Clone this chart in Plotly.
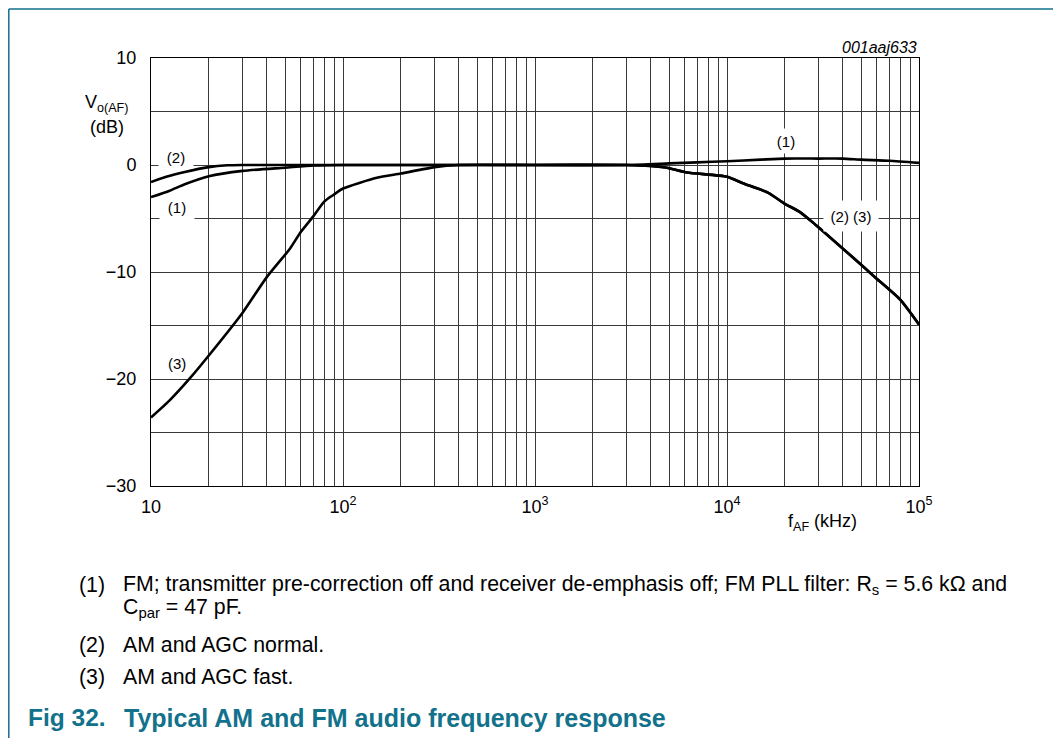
import plotly.graph_objects as go

# ---- data (frequency in kHz, response in dB) ----
f1 = [10, 12.5, 15, 20, 30, 50, 70, 100, 300, 1000, 3000, 5000, 7000, 10000, 15000, 20000, 30000, 40000, 50000, 70000, 100000]
db1 = [-3.0, -2.4, -1.8, -1.05, -0.55, -0.25, -0.05, 0, 0, 0, 0, 0.15, 0.25, 0.35, 0.5, 0.6, 0.6, 0.6, 0.5, 0.4, 0.2]

f2 = [10, 12, 15, 20, 25, 30, 100, 1000, 3000, 4000, 5000, 6200, 10000, 12100, 16400, 19900, 24000, 29000, 45000, 60000, 80000, 100000]
db2 = [-1.6, -1.1, -0.65, -0.2, -0.03, 0, 0, 0, 0, -0.1, -0.3, -0.7, -1.1, -1.7, -2.6, -3.6, -4.4, -5.6, -8.6, -10.6, -12.6, -14.9]

f3 = [10, 12.5, 16, 20, 30, 40, 53, 60, 70, 80, 89, 100, 150, 200, 300, 400, 1000, 3000, 4000, 5000, 6200, 10000, 12100, 16400, 19900, 24000, 29000, 45000, 60000, 80000, 100000]
db3 = [-23.6, -22.0, -19.9, -17.8, -13.8, -10.5, -7.8, -6.3, -4.8, -3.4, -2.8, -2.2, -1.2, -0.8, -0.2, 0, 0, 0, -0.1, -0.3, -0.7, -1.1, -1.7, -2.6, -3.6, -4.4, -5.6, -8.6, -10.6, -12.6, -14.9]

x_tickvals = [10, 100, 1000, 10000, 100000]
x_ticktext = ["10", "10<sup>2</sup>", "10<sup>3</sup>", "10<sup>4</sup>", "10<sup>5</sup>"]
x_minor = [m * d for d in [10, 100, 1000, 10000] for m in range(2, 10)]
y_tickvals = [-30, -20, -10, 0, 10]
y_ticktext = ["\u221230", "\u221220", "\u221210", "0", "10"]

TEAL = "#12718b"
FONT = "Liberation Sans, Arial, sans-serif"

# page offset (body margin) and plot-area geometry in reference pixels
OFF = 8
W, H = 1061 - OFF, 738 - OFF
L, R, T, B = 151, 919, 58, 486

def px(x):
    return (x - L) / (R - L)

def py(y):
    return (B - y) / (B - T)

fig = go.Figure()
for f, d in [(f1, db1), (f2, db2), (f3, db3)]:
    fig.add_trace(go.Scatter(x=f, y=d, mode="lines",
                             line=dict(color="black", width=2.6, shape="spline", smoothing=0.6),
                             showlegend=False, hoverinfo="skip"))

GRID = "#3a3a3a"
fig.update_layout(
    width=W, height=H,
    margin=dict(l=L - OFF, r=1061 - R, t=T - OFF, b=738 - B),
    paper_bgcolor="white", plot_bgcolor="white",
    font=dict(family=FONT, size=18, color="black"),
    xaxis=dict(type="log", range=[1, 5], tickvals=x_tickvals, ticktext=x_ticktext,
               showgrid=True, gridcolor=GRID, gridwidth=1,
               showline=True, linecolor="black", linewidth=1, mirror=True,
               ticks="", ticklabelstandoff=4, zeroline=False,
               tickfont=dict(family=FONT, size=18),
               minor=dict(tickvals=x_minor, showgrid=True, gridcolor=GRID, gridwidth=1, ticks="")),
    yaxis=dict(range=[-30, 10], tickvals=y_tickvals, ticktext=y_ticktext,
               showgrid=True, gridcolor=GRID, gridwidth=1,
               showline=True, linecolor="black", linewidth=1, mirror=True,
               ticks="", ticklabelstandoff=10, zeroline=False,
               tickfont=dict(family=FONT, size=18),
               minor=dict(dtick=5, showgrid=True, gridcolor=GRID, gridwidth=1, ticks="")),
)

ann = []
def text(x, y, s, xanchor="center", yanchor="middle", size=18, color="black", bold=False, **kw):
    ann.append(dict(xref="paper", yref="paper", x=px(x), y=py(y), text=s, showarrow=False,
                    xanchor=xanchor, yanchor=yanchor,
                    font=dict(family=FONT, size=size, color=color, weight="bold" if bold else "normal"), **kw))

# axis titles & id
text(107, 103, "V<sub>o(AF)</sub>", size=18)
text(107, 127, "(dB)", size=18)
text(822, 522, "f<sub>AF</sub> (kHz)", size=18)
text(919, 47, "<i>001aaj633</i>", xanchor="right", size=16)

# curve labels (white boxes hide grid lines)
text(176, 147, "(2)", yanchor="top", size=15, bgcolor="white", height=18, width=32, valign="top")
text(177, 197, "(1)", yanchor="top", size=15, bgcolor="white", height=24, width=32, valign="top")
text(177, 363, "(3)", size=15)
text(786, 141, "(1)", size=15, bgcolor="white", height=22, width=30)
text(851, 216, "(2) (3)", size=15, bgcolor="white", height=28, width=52)

# footnotes
FN = 21.3
text(77, 585, "(1)", xanchor="left", size=FN)
text(121, 585, "FM; transmitter pre-correction off and receiver de-emphasis off; FM PLL filter: R<sub>s</sub> = 5.6 k\u03a9 and", xanchor="left", size=FN)
text(121, 608, "C<sub>par</sub> = 47 pF.", xanchor="left", size=FN)
text(77, 645, "(2)", xanchor="left", size=FN)
text(121, 645, "AM and AGC normal.", xanchor="left", size=FN)
text(77, 677, "(3)", xanchor="left", size=FN)
text(121, 677, "AM and AGC fast.", xanchor="left", size=FN)
text(26, 718, "Fig 32.", xanchor="left", size=24.5, color=TEAL, bold=True)
text(122, 718, "Typical AM and FM audio frequency response", xanchor="left", size=25, color=TEAL, bold=True)

fig.update_layout(annotations=ann)

# document frame lines (teal)
fig.add_shape(type="line", xref="paper", yref="paper", x0=px(8.8), x1=px(8.8), y0=py(9), y1=py(760),
              line=dict(color=TEAL, width=1.5))
fig.add_shape(type="line", xref="paper", yref="paper", x0=px(8.8), x1=px(1080), y0=py(9), y1=py(9),
              line=dict(color=TEAL, width=1.5))

fig.write_html("out.html")
